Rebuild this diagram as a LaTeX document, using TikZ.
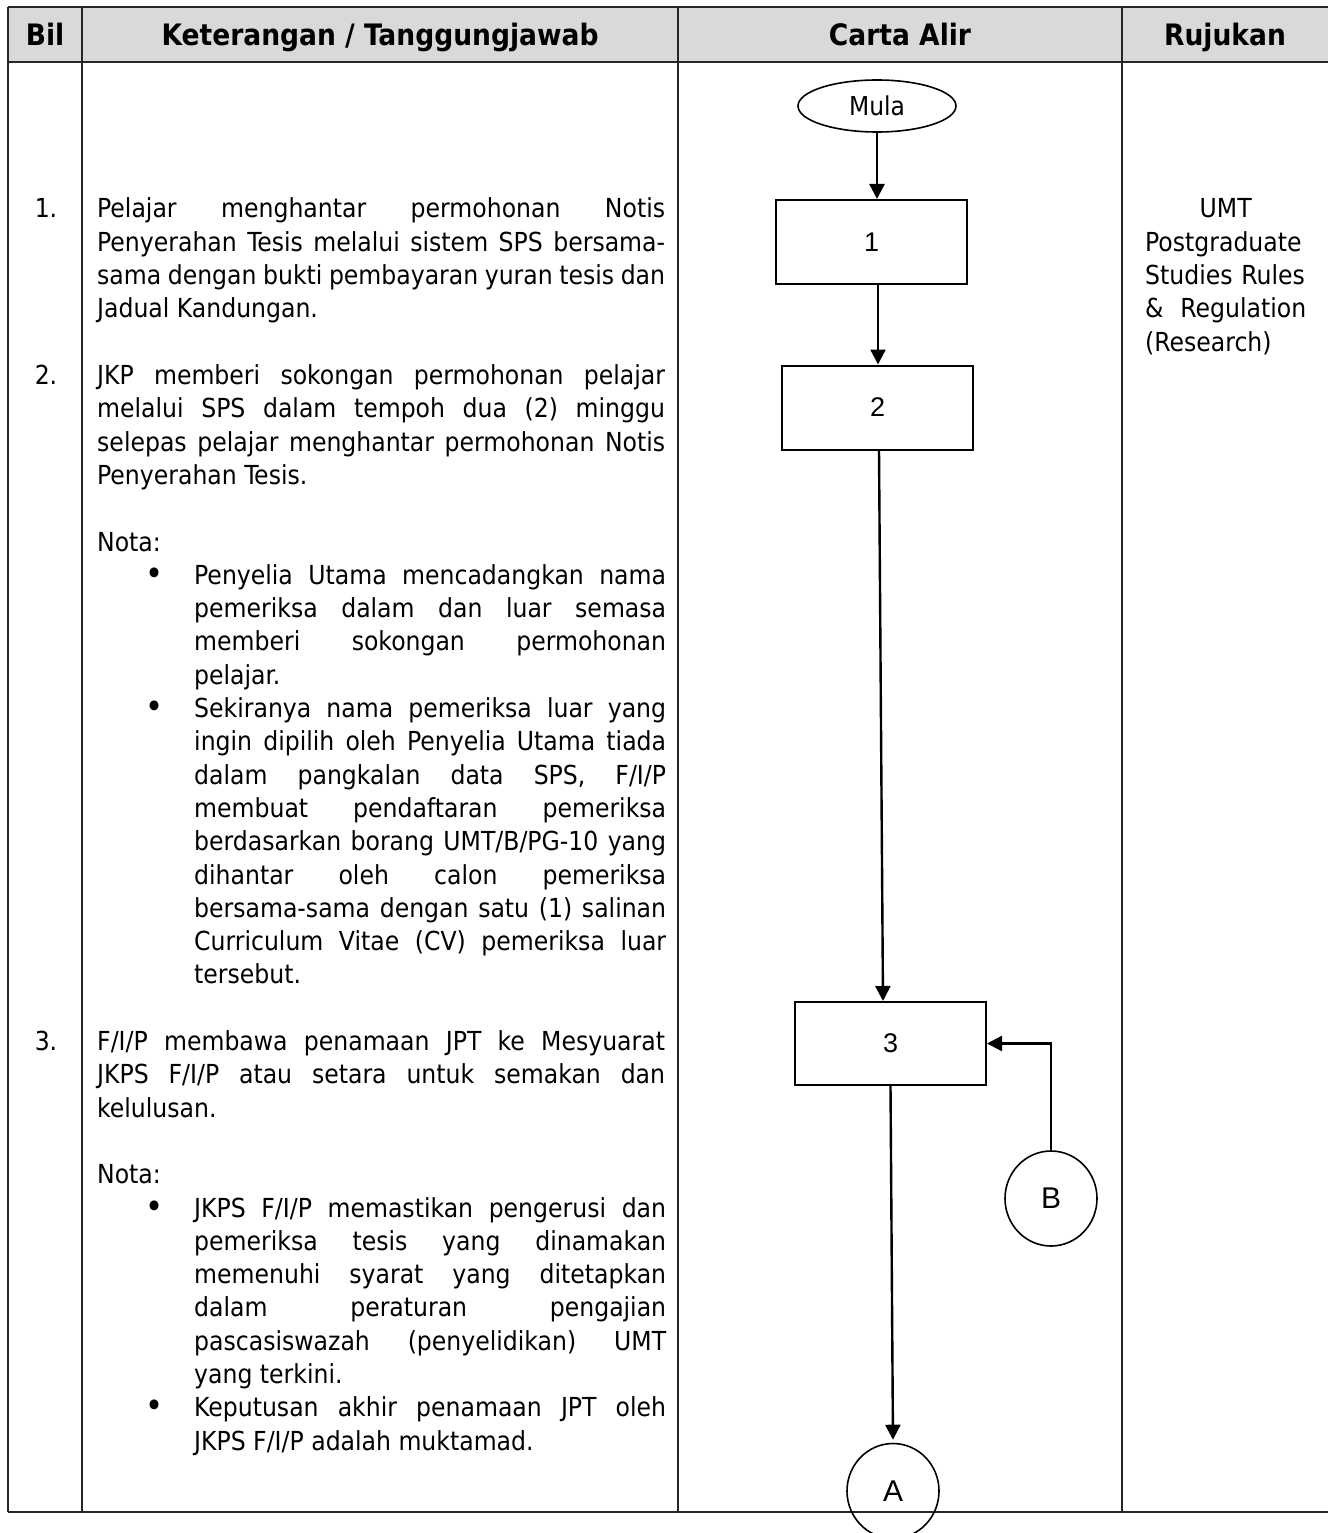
\documentclass[tikz,border=0pt]{standalone}
\usepackage{fontspec}
\setmainfont{DejaVu Sans Condensed}
\newfontfamily\arialfont{Liberation Sans}
\usetikzlibrary{shapes.geometric,arrows.meta}
\definecolor{headgray}{RGB}{217,217,217}
\tolerance=9999 \hbadness=10000 \hyphenpenalty=10000
\tikzset{
  rule/.style={line width=1.4pt,black!85},
  head/.style={font=\fontsize{29.5}{29.5}\selectfont\bfseries,anchor=base,inner sep=0pt},
  body/.style={font=\fontsize{26.2}{33.3}\selectfont},
  para/.style={body,anchor=base west,inner sep=0pt,text width=#1,align=justify},
  num/.style={body,anchor=base,inner sep=0pt},
  dot/.style={font=\fontsize{34}{34}\selectfont,anchor=base,inner sep=0pt},
  procbox/.style={draw,line width=2pt,minimum width=191pt,minimum height=84pt,inner sep=0pt,
    font=\arialfont\fontsize{27}{27}\selectfont},
  terminal/.style={draw,ellipse,line width=1.6pt,minimum width=158pt,minimum height=52pt,inner sep=0pt,
    font=\fontsize{26}{26}\selectfont},
  connector/.style={draw,ellipse,line width=1.6pt,minimum width=92pt,minimum height=95pt,inner sep=0pt,
    font=\arialfont\fontsize{30}{30}\selectfont},
  flow/.style={line width=2.4pt,-{Triangle[length=15pt,width=15pt]}}
}
\begin{document}
\begin{tikzpicture}[x=1pt,y=-1pt]
  \useasboundingbox (0,0) rectangle (1328,1533);
  \def\BL{218} \def\LS{33.3}
  % table frame
  \fill[headgray] (8,7) rectangle (1328,62);
  \draw[rule] (8,7) -- (1328,7) (8,62) -- (1328,62) (8,1512) -- (1328,1512);
  \foreach \xc in {8,82,678,1122} \draw[rule] (\xc,7) -- (\xc,1512);
  % column headers
  \node[head] (hbil) at (45,46) {Bil};
  \node[head] (hket) at (380,46) {Keterangan / Tanggungjawab};
  \node[head] (hcarta) at (900,46) {Carta Alir};
  \node[head] (hruj) at (1225,46) {Rujukan};
  % item numbers and bullets
  \foreach \n/\k in {1/0,2/5,3/25} \node[num] (num\n) at (46,{\BL+\k*\LS}) {\n.};
  \foreach \k [count=\i] in {11,15,30,36} \node[dot] (dot\i) at (155,{\BL+\k*\LS+1}) {\textbullet};
  % keterangan
  \node[para=568pt] (ket1) at (97,\BL) {Pelajar menghantar permohonan Notis\linebreak
    Penyerahan Tesis melalui sistem SPS bersama-\linebreak
    sama dengan bukti pembayaran yuran tesis dan\linebreak
    Jadual Kandungan.};
  \node[para=568pt] (ket2) at (97,{\BL+5*\LS}) {JKP memberi sokongan permohonan pelajar\linebreak
    melalui SPS dalam tempoh dua (2) minggu\linebreak
    selepas pelajar menghantar permohonan Notis\linebreak
    Penyerahan Tesis.};
  \node[para=568pt] (nota1) at (97,{\BL+10*\LS}) {Nota:};
  \node[para=472pt] (bul1) at (194,{\BL+11*\LS}) {Penyelia Utama mencadangkan nama\linebreak
    pemeriksa dalam dan luar semasa\linebreak
    memberi sokongan permohonan\linebreak
    pelajar.};
  \node[para=472pt] (bul2) at (194,{\BL+15*\LS}) {Sekiranya nama pemeriksa luar yang\linebreak
    ingin dipilih oleh Penyelia Utama tiada\linebreak
    dalam pangkalan data SPS, F/I/P\linebreak
    membuat pendaftaran pemeriksa\linebreak
    berdasarkan borang UMT/B/PG-10 yang\linebreak
    dihantar oleh calon pemeriksa\linebreak
    bersama-sama dengan satu (1) salinan\linebreak
    Curriculum Vitae (CV) pemeriksa luar\linebreak
    tersebut.};
  \node[para=568pt] (ket3) at (97,{\BL+25*\LS}) {F/I/P membawa penamaan JPT ke Mesyuarat\linebreak
    JKPS F/I/P atau setara untuk semakan dan\linebreak
    kelulusan.};
  \node[para=568pt] (nota2) at (97,{\BL+29*\LS}) {Nota:};
  \node[para=472pt] (bul3) at (194,{\BL+30*\LS}) {JKPS F/I/P memastikan pengerusi dan\linebreak
    pemeriksa tesis yang dinamakan\linebreak
    memenuhi syarat yang ditetapkan\linebreak
    dalam peraturan pengajian\linebreak
    pascasiswazah (penyelidikan) UMT\linebreak
    yang terkini.};
  \node[para=472pt] (bul4) at (194,{\BL+36*\LS}) {Keputusan akhir penamaan JPT oleh\linebreak
    JKPS F/I/P adalah muktamad.};
  % rujukan
  \node[para=161pt,align=left] (ruj) at (1145,\BL) {\hfill UMT\hfill\null\\
    Postgraduate\\ Studies Rules\\ \&\hfill Regulation\\ (Research)};
  % carta alir
  \node[terminal] (mula) at (877,106) {Mula};
  \node[procbox] (b1) at (871.5,242) {1};
  \node[procbox] (b2) at (877.5,407.5) {2};
  \node[procbox,minimum height=83pt] (b3) at (890.5,1043.5) {3};
  \node[connector] (cb) at (1051,1198.5) {B};
  \node[connector] (ca) at (893,1491) {A};
  \draw[flow] (mula.south) -- (mula.south |- b1.north);
  \draw[flow] ([xshift=6.5pt]b1.south) -- ([xshift=0.5pt]b2.north);
  \draw[flow] ([xshift=1.5pt]b2.south) -- ([xshift=-7.5pt]b3.north);
  \draw[flow] (cb.north) |- (b3.east);
  \draw[flow,shorten >=3pt] (b3.south) -- (ca.north);
\end{tikzpicture}
\end{document}
